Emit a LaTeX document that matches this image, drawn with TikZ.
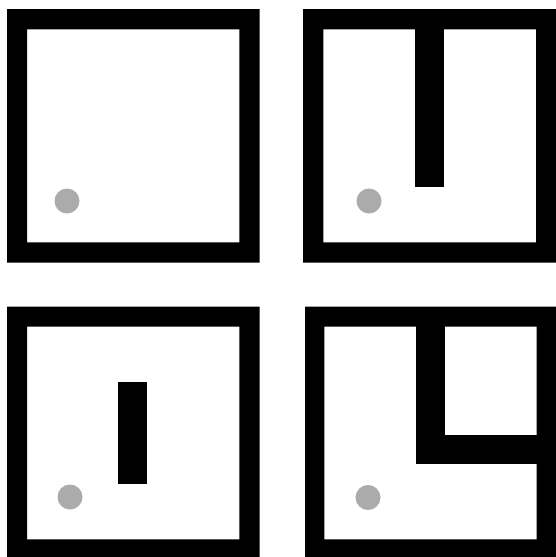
\documentclass[tikz,border=0pt]{standalone}
\definecolor{dotgray}{HTML}{ABABAB}
\tikzset{
  wall/.style={fill=black, draw=none, even odd rule},
  bar/.style={fill=black, draw=none},
  dot/.style={fill=dotgray, draw=none}
}
\begin{document}
\begin{tikzpicture}[x=1pt,y=-1pt]
\useasboundingbox (0,0) rectangle (556,557);
\clip (0,0) rectangle (556,557);
\fill[white] (0,0) rectangle (556,557);
% top-left room
\path[wall] (7,9) rectangle (259.5,262.5) (27,29.3) rectangle (239.3,242.3);
\path[dot] (67,201) circle (12.5);
% top-right room
\path[wall] (303,9) rectangle (556,262.5) (323.3,29.3) rectangle (536,242.3);
\path[bar] (415,28) rectangle (444.3,186.7);
\path[dot] (369,201) circle (12.5);
% bottom-left room
\path[wall] (7,306.7) rectangle (259.5,560) (27,326.7) rectangle (239.3,539.3);
\path[bar] (118.3,382.3) rectangle (147.3,484);
\path[dot] (70,497) circle (12.5);
% bottom-right room
\path[wall] (305,306.7) rectangle (557,560) (324.3,326.7) rectangle (536.7,539.3);
\path[bar] (416,326) rectangle (445,464);
\path[bar] (416,435) rectangle (537,464);
\path[dot] (368,497.5) circle (12.5);
\end{tikzpicture}
\end{document}
